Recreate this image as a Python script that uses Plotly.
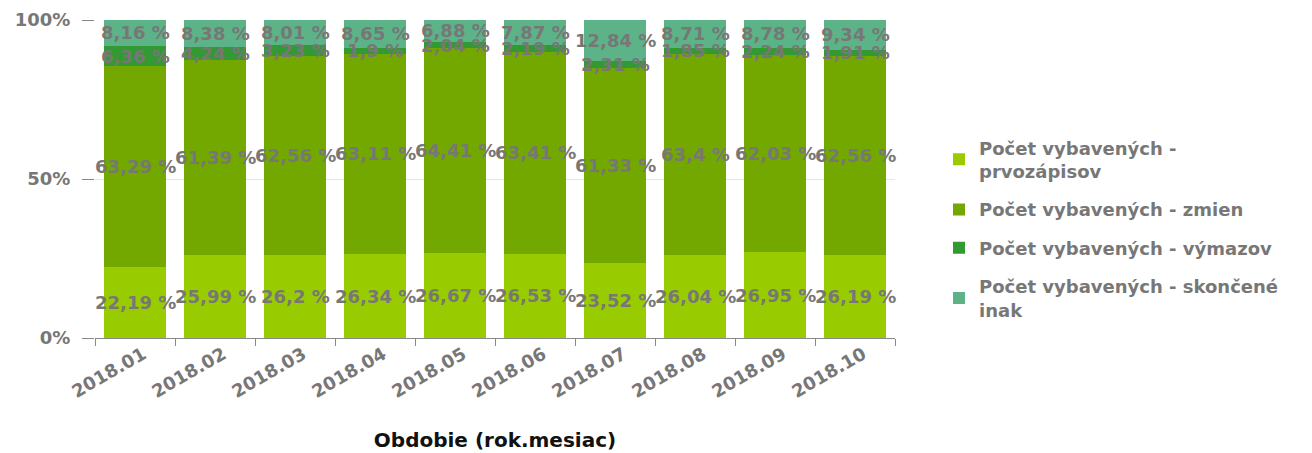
import plotly.graph_objects as go

categories = ["2018.01", "2018.02", "2018.03", "2018.04", "2018.05",
              "2018.06", "2018.07", "2018.08", "2018.09", "2018.10"]
prvozapisov = [22.19, 25.99, 26.2, 26.34, 26.67, 26.53, 23.52, 26.04, 26.95, 26.19]
zmien = [63.29, 61.39, 62.56, 63.11, 64.41, 63.41, 61.33, 63.4, 62.03, 62.56]
vymazov = [6.36, 4.24, 3.23, 1.9, 2.04, 2.19, 2.31, 1.85, 2.24, 1.91]
skoncene = [8.16, 8.38, 8.01, 8.65, 6.88, 7.87, 12.84, 8.71, 8.78, 9.34]

series_names = ["Počet vybavených -<br>prvozápisov",
                "Počet vybavených - zmien",
                "Počet vybavených - výmazov",
                "Počet vybavených - skončené<br>inak"]
series_values = [prvozapisov, zmien, vymazov, skoncene]
colors = ["#99CC00", "#72A800", "#339933", "#5CB388"]

fig = go.Figure()
for k, (name, vals, col) in enumerate(zip(series_names, series_values, colors)):
    fig.add_trace(go.Bar(x=categories, y=vals, name=name, legendgroup="g%d" % k,
                         marker=dict(color=col, line=dict(width=0))))

def fmt(v):
    s = ("%.2f" % v).rstrip("0").rstrip(".")
    return s.replace(".", ",") + " %"

annotations = []
base = [0.0] * len(categories)
for vals in series_values:
    for i, v in enumerate(vals):
        # category axis: annotation x given as category index
        annotations.append(dict(x=i, y=base[i] + v / 2, text=fmt(v), showarrow=False,
                                xref="x", yref="y",
                                font=dict(family="DejaVu Sans", size=18, color="#777777",
                                          weight="bold")))
        base[i] += v

fig.update_layout(
    barmode="stack",
    bargap=0.22,
    width=1312, height=453,
    margin=dict(l=95, r=417, t=20, b=115, autoexpand=False),
    paper_bgcolor="white", plot_bgcolor="white",
    annotations=annotations,
    showlegend=True,
    legend=dict(x=1.055, y=0.343, xanchor="left", yanchor="middle",
                traceorder="grouped",
                font=dict(family="DejaVu Sans", size=18, color="#777777", weight="bold"),
                itemwidth=30, tracegroupgap=12),
    xaxis=dict(type="category", range=[-0.5, len(categories) - 0.5], automargin=False,
               title=dict(text="Obdobie (rok.mesiac)",
                          font=dict(family="DejaVu Sans", size=20, color="#111111",
                                    weight="bold"),
                          standoff=32),
               tickangle=-30, tickfont=dict(family="DejaVu Sans", size=18, color="#777777",
                                            weight="bold"),
               ticklabelshift=8, ticklabelstandoff=-2,
               showline=True, linecolor="#888888", linewidth=1,
               ticks="outside", ticklen=7, tickcolor="#888888", tickson="boundaries",
               showgrid=False),
    yaxis=dict(range=[0, 100], tickvals=[0, 50, 100], ticktext=["0%", "50%", "100%"],
               automargin=False,
               tickfont=dict(family="DejaVu Sans", size=18, color="#777777", weight="bold"),
               ticks="outside", ticklen=12, tickcolor="#888888", ticklabelstandoff=8,
               showgrid=True, gridcolor="#e6e6e6", zeroline=False, showline=False),
)

fig.write_html("out.html", config={"displayModeBar": False},
               post_script=["document.body.style.margin='0px';"])
